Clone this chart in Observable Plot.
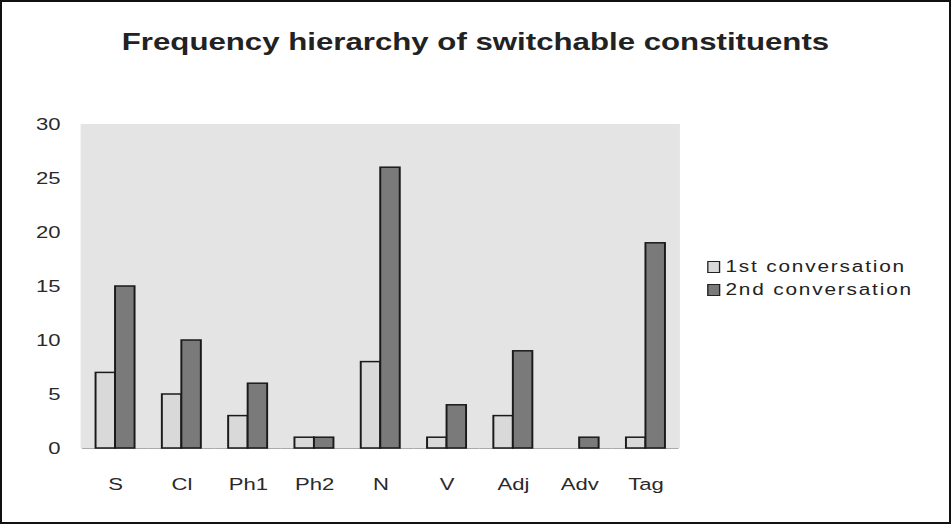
<!DOCTYPE html>
<html><head><meta charset="utf-8">
<script src="https://cdn.jsdelivr.net/npm/d3@7"></script>
<script src="https://cdn.jsdelivr.net/npm/@observablehq/plot@0.6"></script>
<style>
body{margin:0;background:#fff;}
#frame{position:relative;width:951px;height:524px;box-sizing:border-box;border:2px solid #111;overflow:hidden;background:#fff;}
#stretch{position:absolute;left:-2px;top:-2px;width:731.5px;height:524px;transform:scaleX(1.3);transform-origin:0 0;font-family:"Liberation Sans",Arial,sans-serif;color:#222;}
#title{position:absolute;left:0;width:731.5px;top:28px;text-align:center;font-weight:bold;font-size:24px;}
#bg{position:absolute;left:61.5px;top:124px;width:461.5px;height:324px;background:#e4e4e4;}
#chart{position:absolute;left:0;top:0;}
.leg{position:absolute;left:544px;font-size:16px;letter-spacing:1.4px;white-space:nowrap;line-height:18px;}
.sw{display:inline-block;width:8px;height:10px;border:1px solid #222;vertical-align:-1px;margin-right:4px;}
</style></head>
<body>
<div id="frame"><div id="stretch">
<div id="title">Frequency hierarchy of switchable constituents</div>
<div id="bg"></div>
<div id="chart"></div>
<div id="legend"></div>
</div></div>
<script>
const categories = ["S","Cl","Ph1","Ph2","N","V","Adj","Adv","Tag"];
const seriesNames = ["1st conversation","2nd conversation"];
const first = [7,5,3,1,8,1,3,0,1];
const second = [15,10,6,1,26,4,9,1,19];
const yTicks = [0,5,10,15,20,25,30];
const colors = ["#d9d9d9","#7a7a7a"];

const data = [];
categories.forEach((c,i)=>{
  data.push({category:c, series:seriesNames[0], value:first[i]});
  data.push({category:c, series:seriesNames[1], value:second[i]});
});

const plot = Plot.plot({
  width: 731.5, height: 524,
  marginTop: 124, marginBottom: 76, marginLeft: 61.5, marginRight: 208.5,
  style: {fontFamily: "'Liberation Sans', Arial, sans-serif", fontSize: "17px", color: "#2a2a2a", background: "transparent"},
  fx: {domain: categories, padding: 0, label: null, tickSize: 0, tickPadding: 29, axis: "bottom"},
  x: {domain: seriesNames, axis: null, paddingInner: 0, paddingOuter: 0.6},
  y: {domain: [0,30], ticks: yTicks, tickSize: 0, tickPadding: 17, label: null, tickFormat: d => d},
  color: {domain: seriesNames, range: colors},
  marks: [
    Plot.ruleY([0], {stroke: "#aaa"}),
    Plot.barY(data, {fx: "category", x: "series", y: "value", fill: "series", stroke: "#1a1a1a", strokeWidth: 1.5})
  ]
});
document.getElementById("chart").appendChild(plot);

const legend = document.getElementById("legend");
seriesNames.forEach((s,i)=>{
  const d = document.createElement("div");
  d.className = "leg";
  d.style.top = (258 + i*23) + "px";
  d.innerHTML = `<span class="sw" style="background:${colors[i]}"></span>${s}`;
  legend.appendChild(d);
});
</script>
</body></html>
